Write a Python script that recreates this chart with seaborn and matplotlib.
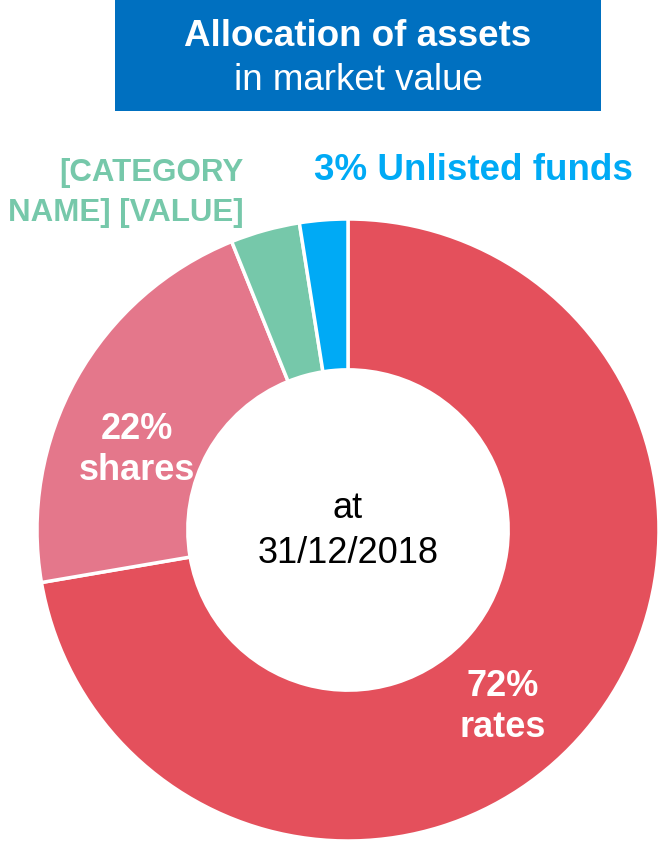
import matplotlib
matplotlib.use("Agg")
import matplotlib.pyplot as plt
import seaborn as sns
from matplotlib.patches import Rectangle

# ---- data ----
categories = ["rates", "shares", "[CATEGORY NAME] [VALUE]", "Unlisted funds"]
values = [72.3, 21.6, 3.6, 2.5]
colors = ["#E4505C", "#E4778B", "#76C8AA", "#00AAF5"]
title_line1 = "Allocation of assets"
title_line2 = "in market value"
center_text = "at\n31/12/2018"

sns.set_theme(style="white")
plt.rcParams['font.family'] = ['Liberation Sans', 'DejaVu Sans']

W, H = 659, 846
fig = plt.figure(figsize=(W / 100, H / 100), dpi=100)
fig.patch.set_facecolor("white")

cx, cy, R = 348, 530, 311
ax = fig.add_axes([(cx - R) / W, (H - cy - R) / H, 2 * R / W, 2 * R / H])
ax.pie(values, colors=colors, startangle=90, counterclock=False,
       radius=1.0, wedgeprops=dict(width=0.485, edgecolor="white", linewidth=2.5))
ax.set_xlim(-1, 1)
ax.set_ylim(-1, 1)
ax.set_aspect("equal")
ax.axis("off")

def fx(x):
    return x / W

def fy(y):
    return 1 - y / H

# title box
fig.patches.append(Rectangle((fx(115), fy(111)), (601 - 115) / W, 111 / H,
                             transform=fig.transFigure, facecolor="#0070C0",
                             edgecolor="none", zorder=0))
fig.text(fx(358), fy(37), title_line1, color="white", fontsize=26.5,
         fontweight="bold", ha="center", va="center")
fig.text(fx(358), fy(80), title_line2, color="white", fontsize=26.5,
         ha="center", va="center")

# center text
fig.text(fx(348), fy(531), center_text, color="black", fontsize=26,
         ha="center", va="center", linespacing=1.35)

# slice labels
fig.text(fx(503), fy(707), "72%\nrates", color="white", fontsize=26,
         fontweight="bold", ha="center", va="center", linespacing=1.2)
fig.text(fx(137), fy(450), "22%\nshares", color="white", fontsize=26,
         fontweight="bold", ha="center", va="center", linespacing=1.2)
fig.text(fx(244), fy(193), "[CATEGORY\nNAME] [VALUE]", color=colors[2],
         fontsize=22.5, fontweight="bold", ha="right", va="center",
         linespacing=1.45)
fig.text(fx(473), fy(170), "3% Unlisted funds", color=colors[3],
         fontsize=26.5, fontweight="bold", ha="center", va="center")

fig.savefig("out.png", dpi=100)
